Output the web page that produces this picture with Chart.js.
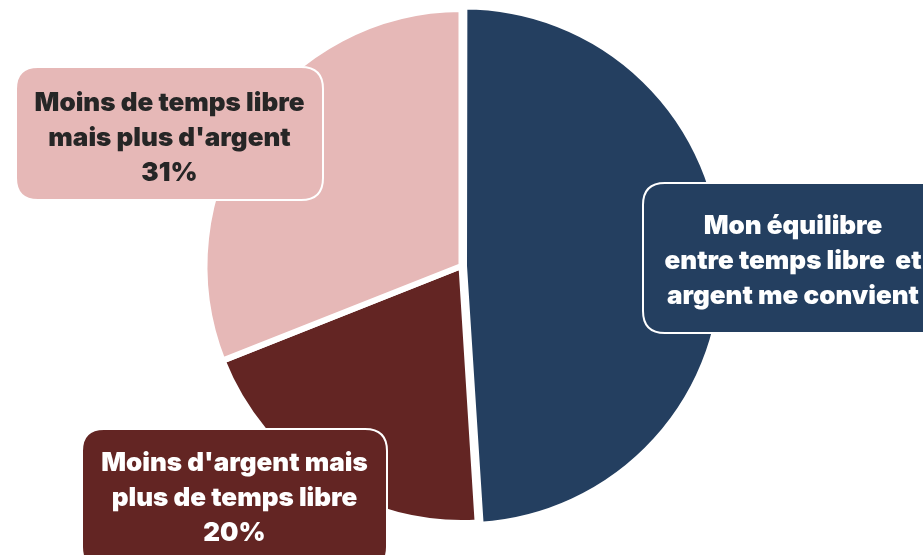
<!DOCTYPE html>
<html>
<head>
<meta charset="utf-8">
<script src="https://cdn.jsdelivr.net/npm/chart.js@4/dist/chart.umd.min.js"></script>
<style>
  html, body { margin: 0; padding: 0; background: #ffffff; }
  #wrap { width: 923px; height: 555px; position: relative; }
</style>
</head>
<body>
<div id="wrap"><canvas id="pieChart"></canvas></div>
<script>
// Data
const categories = [
    "Mon équilibre entre temps libre et argent me convient",
    "Moins d'argent mais plus de temps libre",
    "Moins de temps libre mais plus d'argent"
];
const values = [49, 20, 31];
const labelLines = [
    ["Mon équilibre", "entre temps libre  et", "argent me convient"],
    ["Moins d'argent mais", "plus de temps libre"],
    ["Moins de temps libre", "mais plus d'argent"]
];
const showPercent = [false, true, true];

const sliceColors = ['#243F60', '#632523', '#E6B8B7'];
const textColors = ['#ffffff', '#ffffff', '#262626'];

// label boxes (placed by hand like in the original)
const boxes = [
    { x: 643, y: 183, w: 300, h: 150, lineY: 226 },
    { x: 82, y: 429, w: 305, h: 140, lineY: 463 },
    { x: 16, y: 67, w: 307, h: 133, lineY: 103 }
];

function roundRect(ctx, x, y, w, h, r) {
    ctx.beginPath();
    ctx.moveTo(x + r, y);
    ctx.lineTo(x + w - r, y);
    ctx.quadraticCurveTo(x + w, y, x + w, y + r);
    ctx.lineTo(x + w, y + h - r);
    ctx.quadraticCurveTo(x + w, y + h, x + w - r, y + h);
    ctx.lineTo(x + r, y + h);
    ctx.quadraticCurveTo(x, y + h, x, y + h - r);
    ctx.lineTo(x, y + r);
    ctx.quadraticCurveTo(x, y, x + r, y);
    ctx.closePath();
}

// Draw the data labels in rounded boxes
const boxLabels = {
    id: 'boxLabels',
    afterDatasetsDraw(chart) {
        const ctx = chart.ctx;
        const ds = chart.data.datasets[0];
        ctx.save();
        ds.data.forEach((v, i) => {
            const b = boxes[i];
            roundRect(ctx, b.x, b.y, b.w, b.h, 22);
            ctx.fillStyle = sliceColors[i];
            ctx.fill();
            ctx.lineWidth = 2;
            ctx.strokeStyle = '#ffffff';
            ctx.stroke();

            let lines = labelLines[i].slice();
            if (showPercent[i]) lines.push(v + '%');
            ctx.fillStyle = textColors[i];
            ctx.font = '900 26px Inter';
            ctx.textAlign = 'center';
            ctx.textBaseline = 'middle';
            lines.forEach((t, k) => {
                ctx.fillText(t, b.x + b.w / 2, b.lineY + k * 35);
            });
        });
        ctx.restore();
    }
};

const ctx = document.getElementById('pieChart').getContext('2d');
new Chart(ctx, {
    type: 'pie',
    data: {
        labels: categories,
        datasets: [{
            data: values,
            backgroundColor: sliceColors,
            borderColor: '#ffffff',
            borderWidth: 6,
            offset: [10, 0, 0],
            radius: 257
        }]
    },
    options: {
        responsive: true,
        maintainAspectRatio: false,
        animation: false,
        layout: { padding: { top: 0, bottom: 23, left: 0, right: 0 } },
        plugins: {
            legend: { display: false },
            tooltip: { enabled: false }
        }
    },
    plugins: [boxLabels]
});
</script>
</body>
</html>
